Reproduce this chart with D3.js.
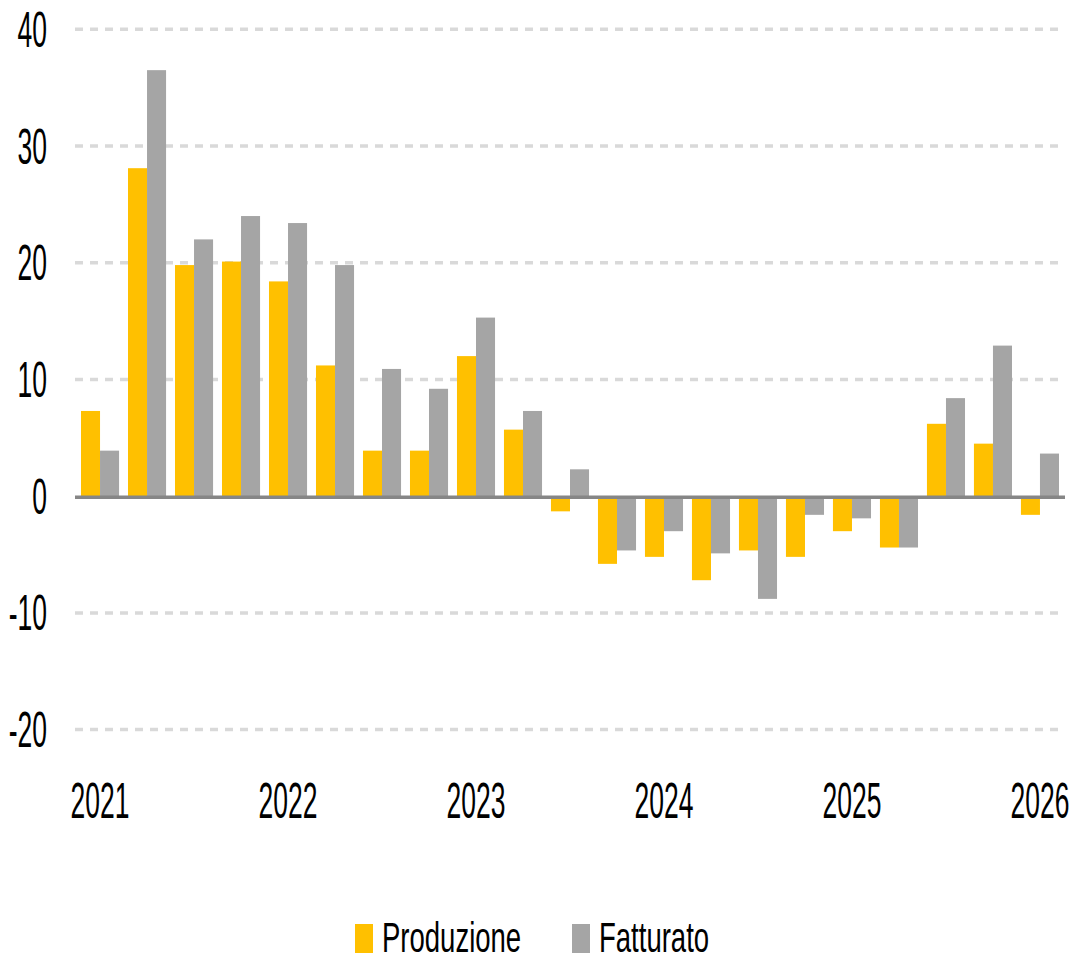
<!DOCTYPE html>
<html>
<head>
<meta charset="utf-8">
<script src="https://cdn.jsdelivr.net/npm/d3@7"></script>
<style>
  html, body { margin: 0; padding: 0; background: #ffffff; }
  svg { display: block; }
  text { font-family: "Liberation Sans", Arial, sans-serif; fill: #000; }
</style>
</head>
<body>
<svg id="chart" width="1076" height="962"></svg>
<script>
const categories = [
  "2021 T1","2021 T2","2021 T3","2021 T4",
  "2022 T1","2022 T2","2022 T3","2022 T4",
  "2023 T1","2023 T2","2023 T3","2023 T4",
  "2024 T1","2024 T2","2024 T3","2024 T4",
  "2025 T1","2025 T2","2025 T3","2025 T4",
  "2026 T1"
];
const produzione = [7.3, 28.1, 19.8, 20.1, 18.4, 11.2, 3.9, 3.9, 12.0, 5.7, -1.3, -5.8, -5.2, -7.2, -4.65, -5.2, -3.0, -4.4, 6.2, 4.5, -1.6];
const fatturato  = [3.9, 36.5, 22.0, 24.0, 23.4, 19.8, 10.9, 9.2, 15.3, 7.3, 2.3, -4.65, -3.0, -4.9, -8.8, -1.6, -1.9, -4.4, 8.4, 12.9, 3.65];
const seriesNames = ["Produzione", "Fatturato"];
const seriesColors = ["#FFC000", "#A5A5A5"];
const yTicks = [-20, -10, 0, 10, 20, 30, 40];
const xTickCategories = ["2021 T1","2022 T1","2023 T1","2024 T1","2025 T1","2026 T1"];
const xTickLabels = ["2021","2022","2023","2024","2025","2026"];

const svg = d3.select("#chart");
const plotLeft = 75, plotRight = 1065;

const y = d3.scaleLinear().domain([-20, 40]).range([729.6, 29.3]);
const x = d3.scaleBand().domain(categories).range([81, 1059]).paddingInner(0.19).paddingOuter(0);
const xSub = d3.scaleBand().domain(seriesNames).range([0, x.bandwidth()]).padding(0);

// gridlines
svg.append("g").selectAll("line").data(yTicks.filter(t => t !== 0)).join("line")
  .attr("x1", plotLeft).attr("x2", plotRight)
  .attr("y1", d => y(d)).attr("y2", d => y(d))
  .attr("stroke", "#d9d9d9").attr("stroke-width", 3.5)
  .attr("stroke-dasharray", "8,7");

// y tick labels (condensed)
const yLab = svg.append("g").selectAll("g").data(yTicks).join("g")
  .attr("transform", d => `translate(47,${y(d)}) scale(0.53,1)`);
yLab.append("text")
  .attr("text-anchor", "end")
  .attr("dominant-baseline", "central")
  .attr("font-size", 50)
  .text(d => d);

// bars
const rows = categories.map((c, i) => ({ cat: c, vals: [produzione[i], fatturato[i]] }));
const groups = svg.append("g").selectAll("g").data(rows).join("g")
  .attr("transform", d => `translate(${x(d.cat)},0)`);
groups.selectAll("rect").data(d => d.vals.map((v, k) => ({ v, k }))).join("rect")
  .attr("x", d => xSub(seriesNames[d.k]))
  .attr("width", xSub.bandwidth())
  .attr("y", d => Math.min(y(d.v), y(0)))
  .attr("height", d => Math.abs(y(d.v) - y(0)))
  .attr("fill", d => seriesColors[d.k]);

// zero axis line
svg.append("line")
  .attr("x1", plotLeft).attr("x2", plotRight)
  .attr("y1", y(0) + 1).attr("y2", y(0) + 1)
  .attr("stroke", "#868686").attr("stroke-width", 3.5);

// x tick labels
const xLab = svg.append("g").selectAll("g").data(xTickCategories).join("g")
  .attr("transform", d => `translate(${x(d) + x.bandwidth() / 2},801) scale(0.53,1)`);
xLab.append("text")
  .attr("text-anchor", "middle")
  .attr("dominant-baseline", "central")
  .attr("font-size", 50)
  .text((d, i) => xTickLabels[i]);

// legend
const legendItems = [
  { name: seriesNames[0], color: seriesColors[0], sx: 355, tx: 382 },
  { name: seriesNames[1], color: seriesColors[1], sx: 572, tx: 599 }
];
const lg = svg.append("g").selectAll("g").data(legendItems).join("g");
lg.append("rect")
  .attr("x", d => d.sx).attr("y", 924).attr("width", 18).attr("height", 29)
  .attr("fill", d => d.color);
lg.append("g")
  .attr("transform", d => `translate(${d.tx},952) scale(0.64,1)`)
  .append("text")
  .attr("font-size", 43)
  .text(d => d.name);
</script>
</body>
</html>
